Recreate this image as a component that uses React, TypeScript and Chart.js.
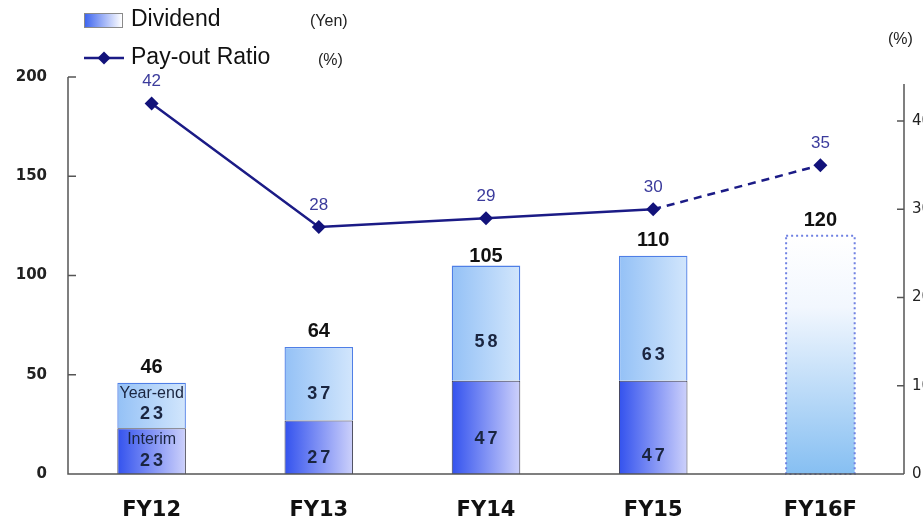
import { useEffect, useRef } from 'react';
import { Chart, registerables } from 'chart.js';

Chart.register(...registerables);

// Dividend per share (Yen) and pay-out ratio (%)
const categories = ['FY12', 'FY13', 'FY14', 'FY15', 'FY16F'];
const interim = [23, 27, 47, 47, null];
const yearEnd = [23, 37, 58, 63, null];
const forecast = [null, null, null, null, 120];
const payoutRatio = [42, 28, 29, 30, 35];
const dividendTicks = [0, 50, 100, 150, 200];
const ratioTicks = [0, 10, 20, 30, 40];

// vertical nudges (px) of the in-bar value labels from each segment's centre
const interimNudge = [10, 11, 12, 29];
const yearEndNudge = [9, 10, 19, 37];

const BAR_FRACTION = 0.41;
const NAVY = '#1b1b86';
const AXIS = '#555555';

const totals = categories.map((_, i) =>
  forecast[i] != null ? (forecast[i] as number) : (interim[i] ?? 0) + (yearEnd[i] ?? 0)
);

function barSpan(chart: any, index: number) {
  const xs = chart.scales.x;
  const cx = xs.getPixelForValue(index);
  const half = ((xs.width / categories.length) * BAR_FRACTION) / 2;
  return [cx - half, cx + half];
}

function hGradient(colors: [string, string], fallback: string) {
  return (c: any) => {
    const chart = c.chart;
    if (!chart.chartArea || !chart.scales.x) return fallback;
    const [l, r] = barSpan(chart, c.dataIndex);
    if (!isFinite(l) || !isFinite(r)) return fallback;
    const g = chart.ctx.createLinearGradient(l, 0, r, 0);
    g.addColorStop(0, colors[0]);
    g.addColorStop(1, colors[1]);
    return g;
  };
}

function forecastGradient(c: any) {
  const chart = c.chart;
  if (!chart.chartArea || !chart.scales.y) return '#cfe4fb';
  const ys = chart.scales.y;
  const top = ys.getPixelForValue(forecast[c.dataIndex] ?? 0);
  const base = ys.getPixelForValue(0);
  if (!isFinite(top) || !isFinite(base) || top === base) return '#cfe4fb';
  const g = chart.ctx.createLinearGradient(0, top, 0, base);
  g.addColorStop(0, '#ffffff');
  g.addColorStop(0.3, '#f2f7fe');
  g.addColorStop(1, '#86bff2');
  return g;
}

function diamond(ctx: CanvasRenderingContext2D, x: number, y: number, r: number) {
  ctx.beginPath();
  ctx.moveTo(x, y - r);
  ctx.lineTo(x + r, y);
  ctx.lineTo(x, y + r);
  ctx.lineTo(x - r, y);
  ctx.closePath();
  ctx.fill();
}

const decorations = {
  id: 'decorations',
  afterDatasetsDraw(chart: any) {
    const ctx: CanvasRenderingContext2D = chart.ctx;
    // dotted outline of the forecast bar
    const meta = chart.getDatasetMeta(2);
    meta.data.forEach((el: any, i: number) => {
      if (forecast[i] == null) return;
      const { x, y, base, width } = el.getProps(['x', 'y', 'base', 'width'], true);
      ctx.save();
      ctx.strokeStyle = '#6f80e2';
      ctx.lineWidth = 2;
      ctx.setLineDash([2, 3]);
      ctx.strokeRect(x - width / 2, y, width, base - y);
      ctx.restore();
    });
  },
  afterDraw(chart: any) {
    const ctx: CanvasRenderingContext2D = chart.ctx;
    const area = chart.chartArea;
    const xs = chart.scales.x;
    const ys = chart.scales.y;
    const y1 = chart.scales.y1;

    ctx.save();
    // axes frame
    ctx.strokeStyle = AXIS;
    ctx.lineWidth = 1.5;
    ctx.beginPath();
    ctx.moveTo(area.left, area.top);
    ctx.lineTo(area.left, area.bottom);
    ctx.lineTo(area.right, area.bottom);
    ctx.moveTo(area.right, y1.getPixelForValue(44.2));
    ctx.lineTo(area.right, area.bottom);
    ctx.stroke();
    // inward tick marks
    ctx.beginPath();
    dividendTicks.forEach((v) => {
      if (v === 0) return;
      const py = ys.getPixelForValue(v);
      ctx.moveTo(area.left, py);
      ctx.lineTo(area.left + 8, py);
    });
    ratioTicks.forEach((v) => {
      if (v === 0) return;
      const py = y1.getPixelForValue(v);
      ctx.moveTo(area.right, py);
      ctx.lineTo(area.right - 7, py);
    });
    ctx.stroke();

    // values inside the stacked segments
    ctx.textAlign = 'center';
    ctx.textBaseline = 'middle';
    ctx.fillStyle = '#1a2540';
    categories.forEach((_, i) => {
      const iv = interim[i];
      const yv = yearEnd[i];
      if (iv == null || yv == null) return;
      const cx = xs.getPixelForValue(i);
      const iMid = (ys.getPixelForValue(0) + ys.getPixelForValue(iv)) / 2;
      const yMid = (ys.getPixelForValue(iv) + ys.getPixelForValue(iv + yv)) / 2;
      ctx.font = 'bold 18px "Liberation Sans", sans-serif';
      (ctx as any).letterSpacing = '3px';
      ctx.fillText(String(iv), cx + 1.5, iMid + interimNudge[i]);
      ctx.fillText(String(yv), cx + 1.5, yMid + yearEndNudge[i]);
      (ctx as any).letterSpacing = '0px';
      if (i === 0) {
        ctx.font = '16px "Liberation Sans", sans-serif';
        ctx.fillText('Year-end', cx, yMid - 12);
        ctx.fillText('Interim', cx, iMid - 12);
      }
    });

    // totals above the bars
    ctx.fillStyle = '#111111';
    ctx.font = 'bold 20px "Liberation Sans", sans-serif';
    ctx.textBaseline = 'alphabetic';
    categories.forEach((_, i) => {
      const cx = xs.getPixelForValue(i);
      const top = ys.getPixelForValue(totals[i]);
      ctx.fillText(String(totals[i]), cx, top - (i === 2 ? 4 : 10));
    });

    // pay-out ratio labels
    ctx.fillStyle = '#3b3b9c';
    ctx.font = '17px "Liberation Sans", sans-serif';
    ctx.textBaseline = 'middle';
    payoutRatio.forEach((v, i) => {
      const cx = xs.getPixelForValue(i);
      const py = y1.getPixelForValue(v);
      ctx.fillText(String(v), cx, py - 22);
    });

    // legend
    ctx.textAlign = 'left';
    const lg = ctx.createLinearGradient(84, 0, 122, 0);
    lg.addColorStop(0, '#3a62ee');
    lg.addColorStop(1, '#ffffff');
    ctx.fillStyle = lg;
    ctx.fillRect(84, 13, 38, 14);
    ctx.strokeStyle = '#8a8a8a';
    ctx.lineWidth = 1;
    ctx.strokeRect(84.5, 13.5, 38, 14);
    ctx.strokeStyle = NAVY;
    ctx.lineWidth = 2.5;
    ctx.beginPath();
    ctx.moveTo(84, 58);
    ctx.lineTo(124, 58);
    ctx.stroke();
    ctx.fillStyle = '#12127a';
    diamond(ctx, 104, 58, 6.5);

    ctx.fillStyle = '#111111';
    ctx.font = '23px "Liberation Sans", sans-serif';
    ctx.fillText('Dividend', 131, 20);
    ctx.fillText('Pay-out Ratio', 131, 58);
    ctx.fillStyle = '#222222';
    ctx.font = '16px "Liberation Sans", sans-serif';
    ctx.fillText('(Yen)', 310, 22);
    ctx.fillText('(%)', 318, 61);
    ctx.fillText('(%)', 888, 40);
    ctx.restore();
  },
};

export default function App() {
  const canvasRef = useRef<HTMLCanvasElement | null>(null);

  useEffect(() => {
    const canvas = canvasRef.current;
    if (!canvas) return;
    const barCommon = {
      stack: 'dividend',
      barPercentage: 0.82,
      categoryPercentage: 0.5,
      order: 1,
      yAxisID: 'y',
    };
    const chart = new Chart(canvas, {
      type: 'bar',
      data: {
        labels: categories,
        datasets: [
          {
            ...barCommon,
            label: 'Interim',
            data: interim,
            backgroundColor: hGradient(['#3352ee', '#cdd1fb'], '#7d8ff3'),
            borderColor: '#3a3a4a',
            borderWidth: 1,
          },
          {
            ...barCommon,
            label: 'Year-end',
            data: yearEnd,
            backgroundColor: hGradient(['#94c1f6', '#d2e6fc'], '#b3d4f9'),
            borderColor: '#4f7fe6',
            borderWidth: 1.3,
          },
          {
            ...barCommon,
            label: 'Forecast',
            data: forecast,
            backgroundColor: forecastGradient,
            borderWidth: 0,
          },
          {
            type: 'line',
            label: 'Pay-out Ratio',
            data: payoutRatio,
            yAxisID: 'y1',
            order: 0,
            borderColor: NAVY,
            borderWidth: 2.5,
            tension: 0,
            pointStyle: 'rectRot',
            pointRadius: 7,
            pointBackgroundColor: '#12127a',
            pointBorderColor: '#12127a',
            pointBorderWidth: 0,
            segment: {
              borderDash: (c: any) => (c.p1DataIndex === 4 ? [8, 6] : undefined),
            },
          } as any,
        ],
      },
      options: {
        responsive: false,
        animation: false,
        events: [],
        layout: { padding: { top: 77, left: 0, right: 0, bottom: 0 } },
        plugins: {
          legend: { display: false },
          tooltip: { enabled: false },
        },
        scales: {
          x: {
            stacked: true,
            grid: { display: false, drawTicks: false },
            border: { display: false },
            ticks: {
              color: '#111111',
              padding: 24,
              font: { family: '"DejaVu Sans", sans-serif', size: 21, weight: 'bold' },
            },
            afterFit: (s: any) => {
              s.height = 50;
            },
          },
          y: {
            stacked: true,
            min: 0,
            max: 200,
            position: 'left',
            grid: { display: false, drawTicks: false },
            border: { display: false },
            ticks: {
              stepSize: 50,
              color: '#222222',
              padding: 21,
              font: { family: '"DejaVu Sans", sans-serif', size: 15, weight: 'bold' },
            },
            afterFit: (s: any) => {
              s.width = 68;
            },
          },
          y1: {
            min: 0,
            max: 45,
            position: 'right',
            grid: { display: false, drawTicks: false },
            border: { display: false },
            ticks: {
              stepSize: 10,
              color: '#222222',
              padding: 8,
              font: { family: '"DejaVu Sans", sans-serif', size: 15 },
              callback: (v: any) => (ratioTicks.includes(Number(v)) ? String(v) : ''),
            },
            afterFit: (s: any) => {
              s.width = 56;
            },
          },
        },
      },
      plugins: [decorations],
    });
    return () => chart.destroy();
  }, []);

  return (
    <div
      style={{
        position: 'fixed',
        left: 0,
        top: 0,
        width: 923,
        height: 524,
        overflow: 'hidden',
        background: '#ffffff',
      }}
    >
      <canvas ref={canvasRef} width={960} height={524} style={{ width: 960, height: 524, display: 'block' }} />
    </div>
  );
}
